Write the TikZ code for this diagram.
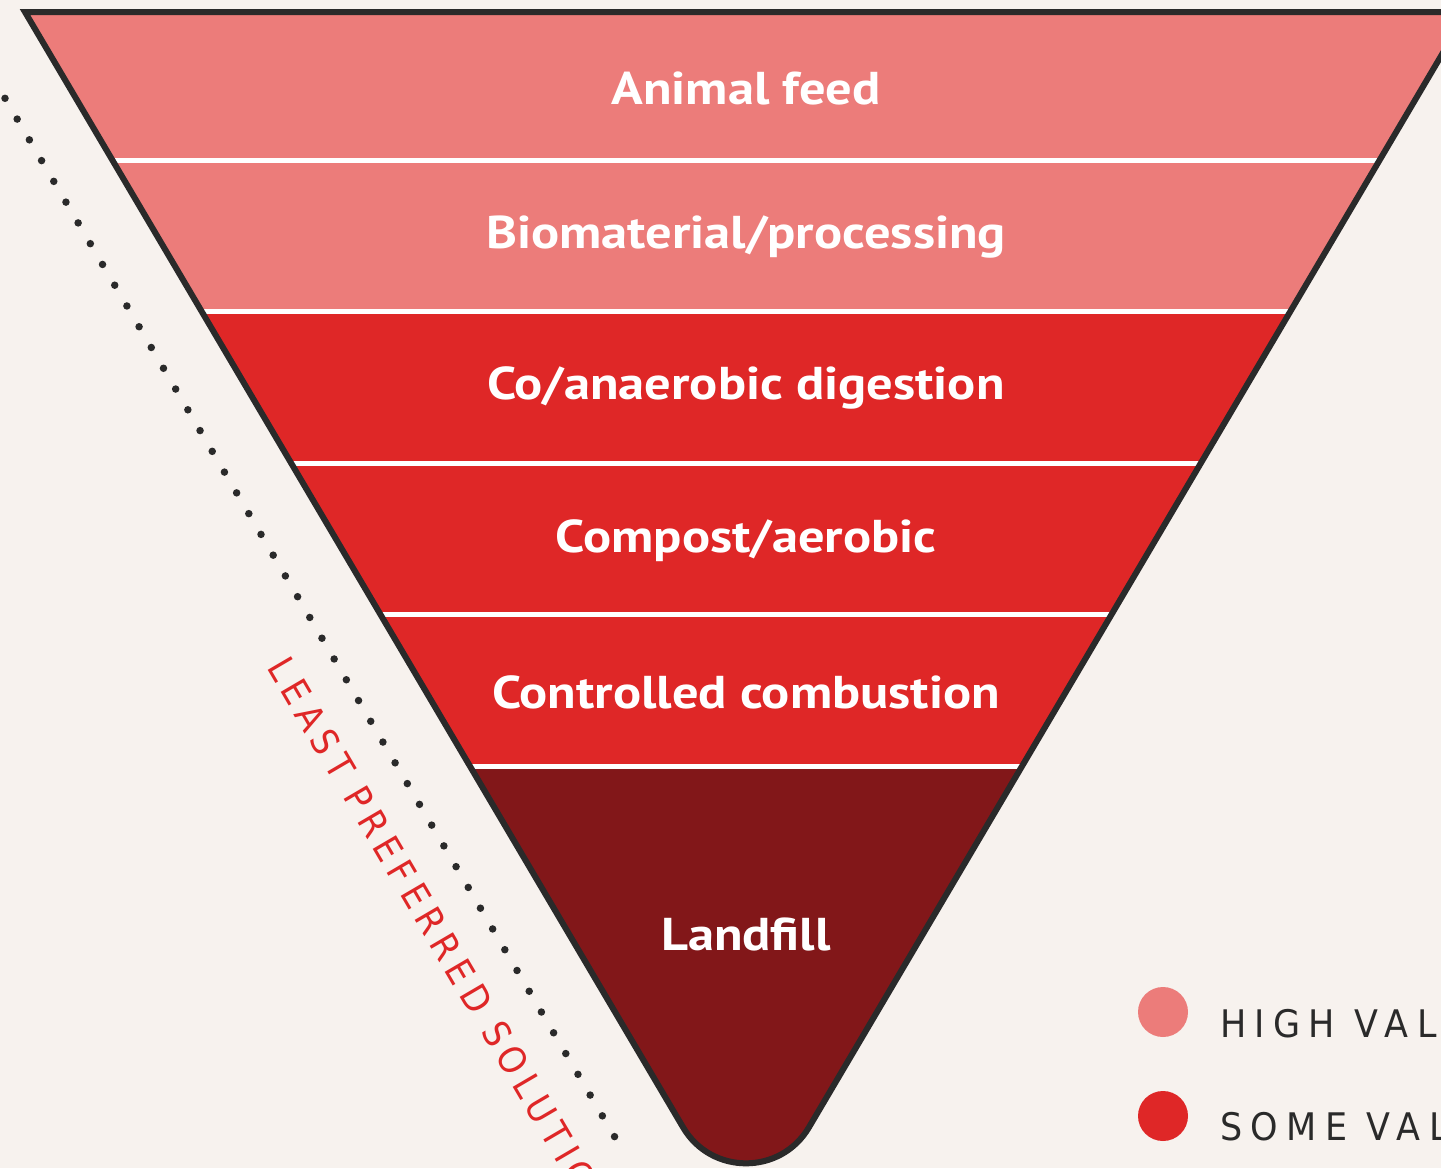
\documentclass[tikz,border=0pt]{standalone}
\usepackage{fontspec}
\setmainfont[FakeStretch=1.14]{PT Sans}
\newfontfamily\legfont[LetterSpace=22,FakeStretch=0.92]{DejaVu Sans}
\newfontfamily\leastfont[LetterSpace=18.5,FakeStretch=0.91]{DejaVu Sans}
\definecolor{bg}{HTML}{F7F2EE}
\definecolor{hv}{HTML}{EC7C7A}
\definecolor{sv}{HTML}{DF2727}
\definecolor{lv}{HTML}{821719}
\definecolor{ol}{HTML}{2A2A2A}
\begin{document}
\begin{tikzpicture}[x=1pt,y=-1pt,
  bandtext/.style={font=\fontsize{46}{50}\selectfont\bfseries, text=white, anchor=base, inner sep=0pt},
  sepline/.style={white, line width=5pt},
  outline/.style={ol, line width=6pt, line join=miter},
  legdot/.style={circle, inner sep=0pt, minimum size=50pt},
  legtext/.style={font=\legfont\fontsize{38}{40}\selectfont, text=ol, anchor=base west, inner sep=0pt},
  dotline/.style={ol, line width=7.5pt, line cap=round, dash pattern=on 0pt off 24.08pt}]
\fill[bg] (0,0) rectangle (1441,1168);
\useasboundingbox (0,0) rectangle (1441,1168);
% geometry
\coordinate (TL) at (25,12);
\coordinate (TR) at (1467,12);
\coordinate (aL) at (683.1,1127.4);
\coordinate (aR) at (808.9,1127.4);
\coordinate (c1) at (711.3,1175.3);
\coordinate (c2) at (780.7,1175.3);
% bands
\begin{scope}
  \clip (TL) -- (aL) .. controls (c1) and (c2) .. (aR) -- (TR) -- cycle;
  \fill[hv] (0,0) rectangle (1500,311.5);
  \fill[sv] (0,311.5) rectangle (1500,766);
  \fill[lv] (0,766) rectangle (1500,1200);
  \foreach \yy in {160,311.5,463,614.5,766}
    \draw[sepline] (0,\yy) -- (1500,\yy);
\end{scope}
\draw[outline] (TR) -- (TL) -- (aL) .. controls (c1) and (c2) .. (aR) -- (TR) -- cycle;
% labels
\node[bandtext] (b1) at (746,104) {Animal feed};
\node[bandtext] (b2) at (746,248) {Biomaterial/processing};
\node[bandtext] (b3) at (746,399) {Co/anaerobic digestion};
\node[bandtext] (b4) at (746,552) {Compost/aerobic};
\node[bandtext] (b5) at (746,708) {Controlled combustion};
\node[bandtext] (b6) at (746,950) {Landfill};
% dotted line
\coordinate (d1) at (5,98.3);
\coordinate (d2) at (626.7,1157.3);
\draw[dotline] (d1) -- (d2);
% rotated text
\node[rotate=-59.6, anchor=base west, inner sep=0pt, text=sv, font=\leastfont\fontsize{37}{40}\selectfont] (lp) at (266.5,667.5) {LEAST PREFERRED SOLUTION};
% legend
\node[legdot, fill=hv] (k1) at (1163,1012) {};
\node[legdot, fill=sv] (k2) at (1163,1116) {};
\node[legtext] (l1) at (1220,1037) {HIGH VALUE};
\node[legtext] (l2) at (1220,1140) {SOME VALUE};
\end{tikzpicture}
\end{document}
